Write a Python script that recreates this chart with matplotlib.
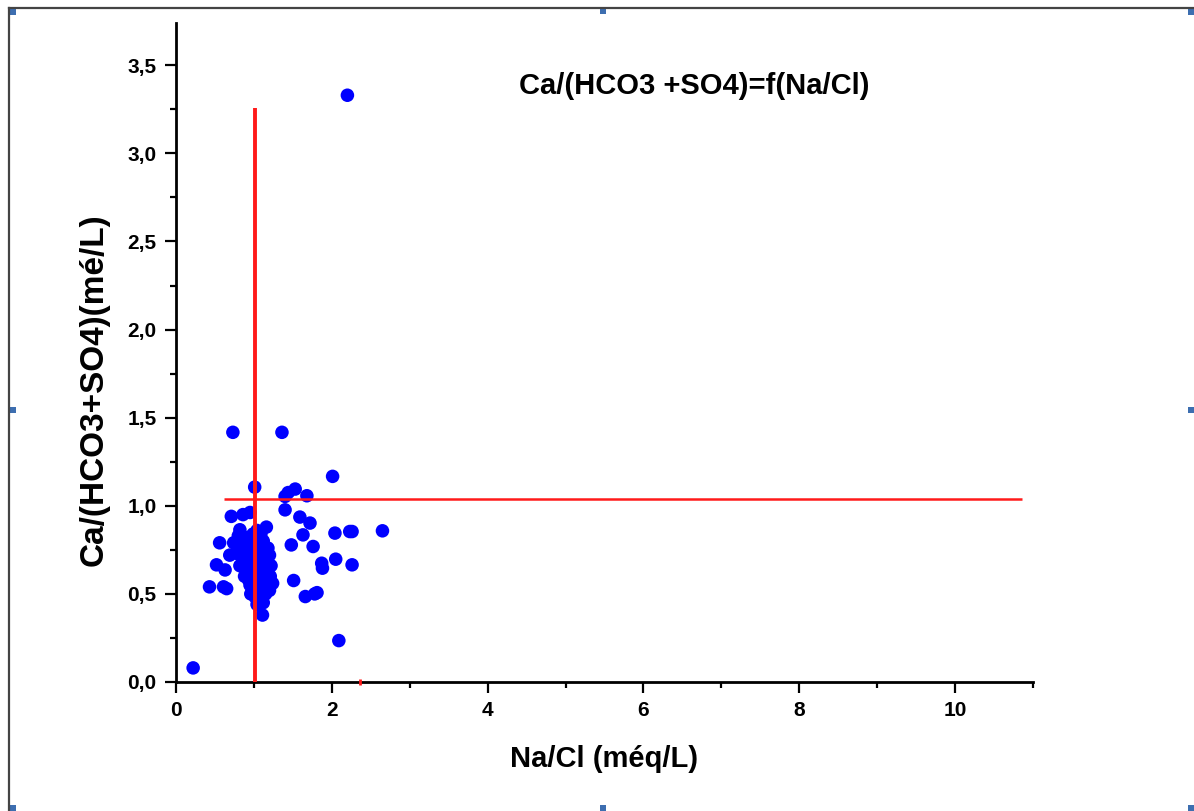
import matplotlib.pyplot as plt
from matplotlib.patches import Rectangle
from matplotlib.ticker import FuncFormatter, MultipleLocator

plt.rcParams["font.family"] = ["Liberation Sans", "DejaVu Sans"]
plt.rcParams["font.weight"] = "bold"

# Na/Cl and Ca/(HCO3+SO4)
na_cl = [
    0.22, 0.43, 0.61, 0.65, 0.52, 0.63, 0.69, 0.56, 0.74, 0.82, 0.71, 0.86,
    0.95, 1.01, 0.73, 1.36, 2.01, 1.44, 1.53, 1.40, 1.68, 1.40, 1.16, 1.59,
    1.72, 2.04, 2.23, 2.26, 2.65, 1.63, 1.48, 1.76, 1.87, 1.88, 2.05, 2.26,
    1.51, 1.66, 1.78, 1.81, 1.11, 2.09, 2.20,
    0.80, 0.84, 0.88, 0.90, 0.86, 0.92, 0.95, 0.98, 1.00, 1.03, 1.06, 1.10,
    1.13, 1.16, 1.20, 1.22, 1.18, 1.14, 1.10, 1.06, 1.02, 0.98, 0.94, 0.90,
    0.88, 0.93, 0.97, 1.01, 1.05, 1.09, 1.13, 1.17, 1.21, 1.24, 1.20, 1.15,
    1.10, 1.05, 1.00, 0.96, 1.02, 1.08, 1.12, 1.04, 0.99, 1.04, 0.92, 1.09,
    0.78, 0.82, 0.96, 1.07, 1.15, 0.91, 1.12, 1.00, 0.87, 1.18, 1.04, 0.95,
]
ca_ratio = [
    0.08, 0.54, 0.54, 0.53, 0.665, 0.636, 0.72, 0.79, 0.79, 0.864, 0.94, 0.95,
    0.962, 1.106, 1.417, 1.417, 1.167, 1.075, 1.095, 1.053, 1.057, 0.977, 0.879, 0.936,
    0.902, 0.845, 0.854, 0.854, 0.858, 0.835, 0.778, 0.769, 0.674, 0.646, 0.697, 0.665,
    0.576, 0.485, 0.50, 0.507, 0.38, 0.235, 3.33,
    0.83, 0.78, 0.80, 0.75, 0.70, 0.72, 0.68, 0.74, 0.78, 0.80, 0.76, 0.78,
    0.74, 0.70, 0.72, 0.66, 0.64, 0.62, 0.66, 0.70, 0.66, 0.62, 0.64, 0.66,
    0.60, 0.58, 0.56, 0.60, 0.63, 0.58, 0.56, 0.58, 0.60, 0.56, 0.52, 0.50,
    0.52, 0.54, 0.52, 0.50, 0.48, 0.47, 0.45, 0.44, 0.84, 0.86, 0.82, 0.84,
    0.73, 0.66, 0.71, 0.73, 0.67, 0.78, 0.80, 0.69, 0.76, 0.76, 0.57, 0.55,
]

# reference lines
vline_x = 1.01
vline_top = 3.26
hline_y = 1.04
hline_span = (0.62, 10.86)

W, H = 1194, 811
fig = plt.figure(figsize=(W / 100, H / 100), dpi=100)
ax = fig.add_axes([176 / W, 1 - 682 / H, (1033 - 176) / W, (682 - 23) / H])

ax.scatter(na_cl, ca_ratio, s=95, color="#0000ff", edgecolors="none", zorder=3)
ax.vlines(vline_x, 0, vline_top, color="#ff1a1a", lw=2.8, zorder=4)
ax.hlines(hline_y, *hline_span, color="#ff1a1a", lw=1.8, zorder=4)
ax.plot([2.36], [0], marker="|", ms=4, mew=2, color="#ff1a1a", clip_on=False, zorder=5)

ax.set_xlim(0, 11)
ax.set_ylim(0, 3.74)
ax.xaxis.set_major_locator(MultipleLocator(2))
ax.xaxis.set_minor_locator(MultipleLocator(1))
ax.yaxis.set_major_locator(MultipleLocator(0.5))
ax.yaxis.set_minor_locator(MultipleLocator(0.25))
ax.yaxis.set_major_formatter(FuncFormatter(lambda v, p: f"{v:.1f}".replace(".", ",")))

for side in ("top", "right"):
    ax.spines[side].set_visible(False)
for side in ("left", "bottom"):
    ax.spines[side].set_linewidth(2.0)
ax.tick_params(which="major", direction="out", length=8, width=1.6, labelsize=15, pad=6)
ax.tick_params(which="minor", direction="out", length=4.5, width=1.6)
for lab in ax.get_xticklabels() + ax.get_yticklabels():
    lab.set_fontweight("bold")

ax.set_xlabel("Na/Cl (méq/L)", fontsize=21, fontweight="bold", labelpad=18)
ax.set_ylabel("Ca/(HCO3+SO4)(mé/L)", fontsize=24, fontweight="bold")
ax.yaxis.set_label_coords(-0.077, 0.443)
ax.text(0.605, 0.904, "Ca/(HCO3 +SO4)=f(Na/Cl)", transform=ax.transAxes,
        ha="center", va="center", fontsize=21, fontweight="bold")

# frame of the embedded object with its handles
fig.add_artist(plt.Line2D([9 / W, 1], [1 - 7.5 / H] * 2, color="#444444", lw=1.6))
fig.add_artist(plt.Line2D([9 / W] * 2, [0, 1 - 7.5 / H], color="#444444", lw=1.6))
for hx, hy in [(10, 9), (600, 8), (1188, 9), (10, 407), (1188, 407),
               (10, 805), (600, 805), (1188, 805)]:
    fig.add_artist(Rectangle((hx / W, 1 - (hy + 6) / H), 6 / W, 6 / H,
                             transform=fig.transFigure, color="#3d6eb0", lw=0))

fig.savefig("out.png", dpi=100)
